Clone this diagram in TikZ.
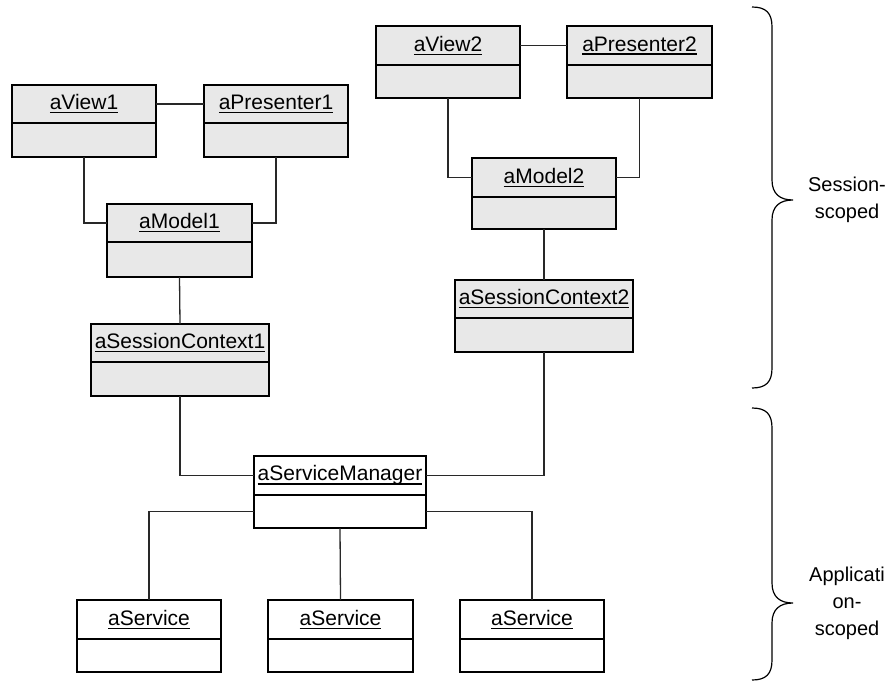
\documentclass[tikz,border=0pt]{standalone}
\usepackage{fontspec}
\setmainfont{Liberation Sans}

\definecolor{sessfill}{RGB}{232,232,232}
\definecolor{wireclr}{RGB}{40,40,40}

% underline at a fixed depth, so descenders cross it
\newcommand\ulabel[1]{\setbox0\hbox{#1}\rlap{\vrule height -2.2pt depth 3.6pt width \wd0}\box0}

% object box: name, style, left, top, right, divider, bottom, label
\newcommand\umlobj[8]{%
  \node[#2, minimum width={#5-#3}, minimum height={#7-#4}] (#1)
    at ({(#3+#5)/2},{-(#4+#7)/2}) {};
  \draw[divline] (#1.west |- 0,-#6) -- (#1.east |- 0,-#6);
  \node[objlabel] (#1-t) at ({(#3+#5)/2},{-(#4+#6)/2}) {\ulabel{#8}};
  \coordinate (#1-b) at ({(#3+#5)/2},{-(#6+#7)/2});
}

\tikzset{
  objbase/.style={draw=black, line width=2pt, rectangle, inner sep=0pt, outer sep=0pt},
  sessobj/.style={objbase, fill=sessfill},
  appobj/.style={objbase, fill=white},
  divline/.style={draw=black, line width=2pt},
  objlabel/.style={inner sep=0pt, font=\fontsize{21}{25}\selectfont},
  wire/.style={draw=wireclr, line width=1.3pt},
  bracepath/.style={draw=black, line width=1.2pt},
  scopelabel/.style={align=center, inner sep=0pt, font=\fontsize{20}{27}\selectfont},
}

\begin{document}
\begin{tikzpicture}[x=1pt, y=1pt]
\useasboundingbox (0,0) rectangle (893,-683);

% session-scoped objects
\umlobj{aView1}{sessobj}{12}{85}{156}{123}{157}{aView1}
\umlobj{aPresenter1}{sessobj}{204}{85}{348}{123}{157}{aPresenter1}
\umlobj{aModel1}{sessobj}{107}{204}{252}{242}{277}{aModel1}
\umlobj{aSessionContext1}{sessobj}{91}{324}{269}{362}{396}{aSessionContext1}

\umlobj{aView2}{sessobj}{376}{26}{520}{65}{98}{aView2}
\umlobj{aPresenter2}{sessobj}{567}{26}{712}{65}{98}{aPresenter2}
\umlobj{aModel2}{sessobj}{472}{158}{616}{197}{229}{aModel2}
\umlobj{aSessionContext2}{sessobj}{455}{280}{633}{318}{352}{aSessionContext2}

% application-scoped objects
\umlobj{aServiceManager}{appobj}{254}{456}{426}{495}{528}{aServiceManager}
\umlobj{aServiceA}{appobj}{77}{600}{221}{639}{672}{aService}
\umlobj{aServiceB}{appobj}{268}{600}{413}{639}{672}{aService}
\umlobj{aServiceC}{appobj}{460}{600}{604}{639}{672}{aService}

% links, first group
\draw[wire] (aView1.east |- aView1-t) -- (aPresenter1.west |- aView1-t);
\draw[wire] (aView1.south) |- (aModel1.west |- aModel1-t);
\draw[wire] (aPresenter1.south) |- (aModel1.east |- aModel1-t);
\draw[wire] (aModel1.south) -- (aSessionContext1.north);
\draw[wire] (aSessionContext1.south) |- (aServiceManager.west |- aServiceManager-t);

% links, second group
\draw[wire] (aView2.east |- aView2-t) -- (aPresenter2.west |- aView2-t);
\draw[wire] (aView2.south) |- (aModel2.west |- aModel2-t);
\draw[wire] (aPresenter2.south) |- (aModel2.east |- aModel2-t);
\draw[wire] (aModel2.south) -- (aSessionContext2.north);
\draw[wire] (aSessionContext2.south) |- (aServiceManager.east |- aServiceManager-t);

% services
\draw[wire] (aServiceManager.west |- aServiceManager-b) -| (aServiceA.north);
\draw[wire] (aServiceManager.south) -- (aServiceB.north);
\draw[wire] (aServiceManager.east |- aServiceManager-b) -| (aServiceC.north);

% scope braces
\draw[bracepath] (752,-7) .. controls (766,-7) and (772,-13) .. (772,-27)
  -- (772,-180) .. controls (772,-194) and (780,-200) .. (793,-200)
  .. controls (780,-200) and (772,-206) .. (772,-220)
  -- (772,-368) .. controls (772,-382) and (766,-388) .. (752,-388);
\node[scopelabel] (sessText) at (847,-200) {Session-\\scoped};

\draw[bracepath] (752,-408) .. controls (766,-408) and (772,-414) .. (772,-428)
  -- (772,-583) .. controls (772,-597) and (780,-603) .. (793,-603)
  .. controls (780,-603) and (772,-609) .. (772,-623)
  -- (772,-660) .. controls (772,-674) and (766,-680) .. (752,-680);
\node[scopelabel] (appText) at (847,-603) {Applicati\\on-\\scoped};
\end{tikzpicture}
\end{document}
